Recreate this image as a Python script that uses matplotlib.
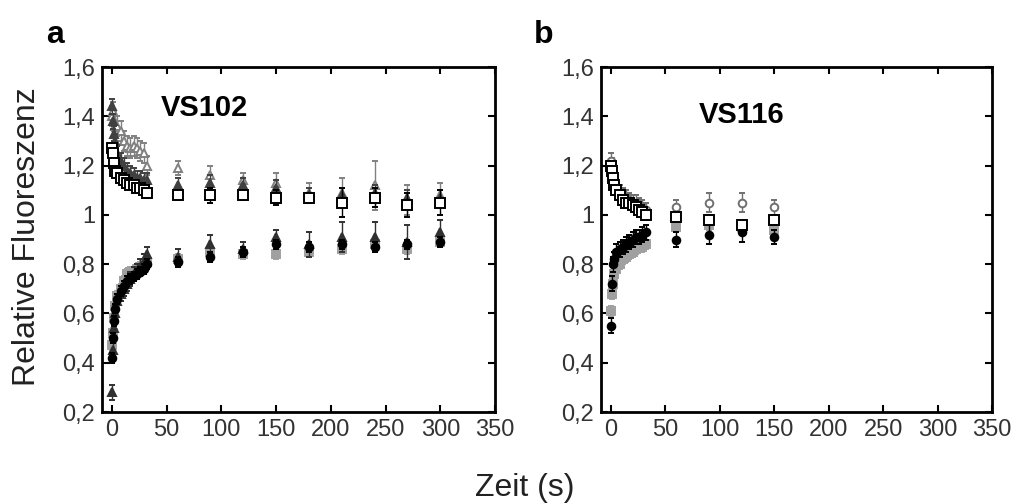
import matplotlib
matplotlib.use("Agg")
import matplotlib.pyplot as plt

plt.rcParams["font.family"] = ["Liberation Sans", "DejaVu Sans"]

# time points (s)
t_early = [0, 1, 2, 3, 5, 8, 11, 14, 17, 20, 23, 26, 29, 32]
t_late_a = [60, 90, 120, 150, 180, 210, 240, 270, 300]
t_late_b = [60, 90, 120, 150]

# panel a, VS102
a_sq_early = [1.27, 1.25, 1.21, 1.18, 1.17, 1.15, 1.14, 1.13, 1.12, 1.12, 1.11, 1.11, 1.10, 1.09]
a_sq_late = [1.08, 1.08, 1.08, 1.07, 1.07, 1.05, 1.07, 1.04, 1.05]
a_sq_err = [0.02, 0.03, 0.02, 0.03, 0.02, 0.06, 0.04, 0.05, 0.05]

a_otri_early = [1.40, 1.42, 1.38, 1.36, 1.36, 1.34, 1.30, 1.28, 1.27, 1.28, 1.27, 1.26, 1.25, 1.20]
a_otri_late = [1.19, 1.16, 1.14, 1.13, 1.09, 1.09, 1.12, 1.06, 1.08]
a_otri_err = [0.03, 0.04, 0.03, 0.04, 0.04, 0.06, 0.10, 0.06, 0.05]

a_dtri_up_early = [1.44, 1.38, 1.33, 1.30, 1.25, 1.22, 1.20, 1.18, 1.17, 1.16, 1.15, 1.15, 1.14, 1.14]
a_dtri_up_late = [1.12, 1.13, 1.12, 1.11, 1.08, 1.08, 1.09, 1.07, 1.07]

a_circ_early = [0.42, 0.50, 0.57, 0.62, 0.66, 0.69, 0.71, 0.73, 0.74, 0.75, 0.76, 0.77, 0.78, 0.80]
a_circ_late = [0.81, 0.83, 0.85, 0.88, 0.87, 0.88, 0.87, 0.88, 0.89]

a_gsq_early = [0.47, 0.52, 0.58, 0.63, 0.67, 0.70, 0.73, 0.76, 0.77, 0.77, 0.78, 0.79, 0.80, 0.81]
a_gsq_late = [0.82, 0.85, 0.84, 0.84, 0.85, 0.86, 0.88, 0.86, 0.89]

a_dtri_early = [0.28, 0.45, 0.54, 0.60, 0.65, 0.68, 0.70, 0.72, 0.74, 0.76, 0.77, 0.79, 0.81, 0.84]
a_dtri_late = [0.83, 0.88, 0.86, 0.91, 0.88, 0.91, 0.91, 0.89, 0.93]
a_low_err = [0.03, 0.04, 0.03, 0.03, 0.05, 0.06, 0.06, 0.07, 0.05]

# panel b, VS116
b_sq_early = [1.20, 1.18, 1.15, 1.12, 1.10, 1.08, 1.06, 1.05, 1.05, 1.04, 1.03, 1.02, 1.01, 1.00]
b_sq_late = [0.99, 0.98, 0.96, 0.98]
b_ocirc_early = [1.22, 1.20, 1.16, 1.13, 1.11, 1.09, 1.08, 1.07, 1.06, 1.05, 1.05, 1.04, 1.03, 1.02]
b_ocirc_late = [1.03, 1.05, 1.05, 1.03]
b_circ_early = [0.55, 0.72, 0.80, 0.82, 0.85, 0.86, 0.87, 0.88, 0.89, 0.90, 0.91, 0.91, 0.92, 0.93]
b_circ_late = [0.90, 0.92, 0.93, 0.91]
b_gsq_early = [0.61, 0.68, 0.72, 0.76, 0.78, 0.80, 0.82, 0.83, 0.84, 0.85, 0.86, 0.87, 0.87, 0.88]
b_gsq_late = [0.95, 0.96, 0.95, 0.94]
b_err = [0.03, 0.04, 0.04, 0.03]

fig = plt.figure(figsize=(10.23, 5.04), dpi=100)
ax_a = fig.add_axes([0.0997, 0.1825, 0.3842, 0.6845])
ax_b = fig.add_axes([0.5875, 0.1825, 0.3822, 0.6845])


def series(ax, t1, y1, t2, y2, e1, e2, marker, ms, fc, ec, z):
    ax.errorbar(t1 + t2, y1 + y2, yerr=[e1] * len(t1) + list(e2), fmt=marker,
                ms=ms, mfc=fc, mec=ec, mew=1.4, ecolor=ec, elinewidth=1.0,
                capsize=2, capthick=1.0, zorder=z)


def late_err(e, n):
    return e if isinstance(e, list) else [e] * n


na, nb = len(t_late_a), len(t_late_b)

series(ax_a, t_early, a_otri_early, t_late_a, a_otri_late, 0.04, a_otri_err,
       "^", 5.5, "white", "#808080", 2)
series(ax_a, t_early, a_dtri_up_early, t_late_a, a_dtri_up_late, 0.03, late_err(0.03, na),
       "^", 5.5, "#404040", "#404040", 3)
series(ax_a, t_early, a_sq_early, t_late_a, a_sq_late, 0.02, a_sq_err,
       "s", 7.2, "white", "black", 5)
series(ax_a, t_early, a_gsq_early, t_late_a, a_gsq_late, 0.02, late_err(0.02, na),
       "s", 6, "#a0a0a0", "#a0a0a0", 2)
series(ax_a, t_early, a_dtri_early, t_late_a, a_dtri_late, 0.03, a_low_err,
       "^", 5.5, "#303030", "#303030", 3)
series(ax_a, t_early, a_circ_early, t_late_a, a_circ_late, 0.02, late_err(0.02, na),
       "o", 5.5, "black", "black", 4)

series(ax_b, t_early, b_ocirc_early, t_late_b, b_ocirc_late, 0.03, b_err,
       "o", 5.5, "white", "#707070", 2)
series(ax_b, t_early, b_sq_early, t_late_b, b_sq_late, 0.02, late_err(0.02, nb),
       "s", 7.2, "white", "black", 5)
series(ax_b, t_early, b_gsq_early, t_late_b, b_gsq_late, 0.02, late_err(0.02, nb),
       "s", 6, "#a0a0a0", "#a0a0a0", 2)
series(ax_b, t_early, b_circ_early, t_late_b, b_circ_late, 0.03, b_err,
       "o", 5.5, "black", "black", 4)

xticks = [0, 50, 100, 150, 200, 250, 300, 350]
yticks = [0.2, 0.4, 0.6, 0.8, 1.0, 1.2, 1.4, 1.6]
ylabels = ["0,2", "0,4", "0,6", "0,8", "1", "1,2", "1,4", "1,6"]

for ax in (ax_a, ax_b):
    ax.set_xlim(-9, 348)
    ax.set_ylim(0.2, 1.6)
    ax.set_xticks(xticks)
    ax.set_yticks(yticks)
    ax.set_yticklabels(ylabels)
    ax.tick_params(direction="in", top=True, right=True, length=5, width=1.5,
                   labelsize=17, pad=5, labelcolor="#333333")
    for s in ax.spines.values():
        s.set_linewidth(2)

ax_a.text(0.15, 0.88, "VS102", transform=ax_a.transAxes, fontsize=21,
          fontweight="bold", va="center")
ax_b.text(0.25, 0.86, "VS116", transform=ax_b.transAxes, fontsize=21,
          fontweight="bold", va="center")

fig.text(0.045, 0.93, "a", fontsize=23, fontweight="bold", va="center")
fig.text(0.522, 0.93, "b", fontsize=23, fontweight="bold", va="center")
fig.text(0.026, 0.53, "Relative Fluoreszenz", rotation=90, fontsize=23,
         ha="center", va="center", color="#222222")
fig.text(0.513, 0.032, "Zeit (s)", fontsize=23, ha="center", va="center",
         color="#222222")

fig.savefig("out.png", dpi=100)
